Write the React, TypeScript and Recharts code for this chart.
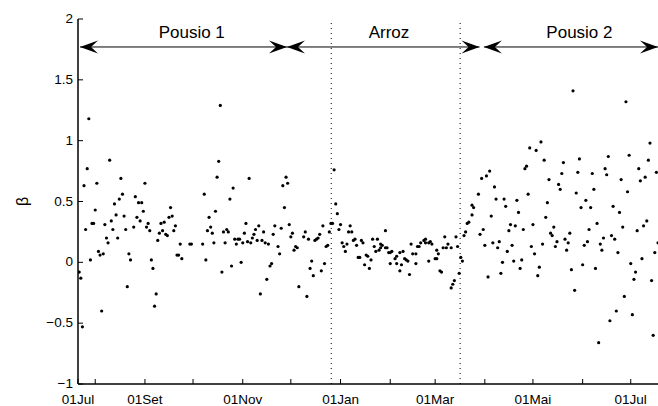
import { ScatterChart, Scatter, XAxis, YAxis, ReferenceLine, ReferenceDot, Label } from "recharts"

// day number counted from 01 Jul of the first year
const days = [
	21, 22, 23, 24, 25, 26, 27, 28, 29, 30,
	31, 32, 33, 34, 35, 36, 37, 38, 39, 40,
	41, 42, 43, 44, 45, 46, 47, 48, 49, 50,
	51, 52, 53,
	55, 56, 57, 58, 59, 60, 61, 62, 63, 64,
	65, 66, 67, 68, 69, 70, 71, 72, 73, 74,
	75, 76, 77, 78, 79, 80, 81,
	82, 83, 84, 85, 90, 91, 98, 99, 100, 101,
	102, 103, 104, 105, 106, 107, 108, 109, 110, 111,
	112, 113, 114, 115, 116, 117, 118, 119, 120, 121,
	122, 123, 124, 125, 126, 127, 128, 129, 130, 131,
	132, 133, 134, 135, 136, 137, 138, 139, 140, 141,
	142, 143,
	145, 146, 147, 148, 149, 150, 151, 152, 153, 154,
	155, 156, 157, 158,
	161, 162, 163, 164, 165, 166, 167, 168, 169, 170,
	171, 172, 173, 174, 175, 176, 177, 178, 179, 180,
	181, 182, 183, 184, 185, 186, 187, 188, 189, 190,
	191, 192, 193, 194, 195, 196, 197, 198, 199, 200,
	201, 202, 203, 204, 205, 206, 207,
	208, 209, 209, 210, 212, 212, 213, 214, 215, 215,
	216, 218, 219, 219, 221, 221, 222, 223, 224, 225,
	226, 227, 228, 229, 231, 231, 232, 233, 234, 236,
	237, 237, 239, 239, 240, 241, 243, 244, 244, 245,
	246, 247, 248, 249, 250, 251, 253, 253, 254, 255,
	256, 257, 258, 259, 260, 261, 262, 263, 264, 266,
	266, 267,
	270, 271, 272, 273, 274, 275, 276, 277, 278, 279,
	280, 281, 282, 283, 284, 285, 286, 287, 288, 289,
	290, 291, 292, 293, 294, 295, 296, 297, 298, 299,
	300, 301, 302, 303, 304, 305, 306, 307, 308, 309,
	310, 311, 312, 313, 314, 315, 316, 317, 318, 319,
	320, 321, 322, 323, 324, 325, 326, 327, 328, 329,
	330,
	331, 332, 333, 334, 335, 336, 337, 338, 339, 340,
	341, 342, 343, 344, 345, 346, 347, 348, 349, 350,
	351, 352, 353, 354, 355, 356, 357, 358, 359, 360,
	361, 362, 363, 364, 365, 366, 367, 368, 369, 370,
	371, 372, 373, 374, 375, 376, 377, 378, 379, 380,
	381, 382,
]

const beta = [
	-0.08, -0.13, -0.53, 0.63, 0.27, 0.77, 1.18, 0.02, 0.32, 0.32,
	0.43, 0.65, 0.09, 0.06, -0.4, 0.07, 0.31, 0.2, 0.16, 0.84,
	0.34, 0.27, 0.48, 0.39, 0.2, 0.52, 0.69, 0.56, 0.38, 0.27,
	-0.2, 0.07, 0.02,
	0.29, 0.54, 0.37, 0.49, 0.34, 0.49, 0.42, 0.65, 0.29, 0.32,
	0.26, 0.02, -0.05, -0.36, -0.26, 0.18, 0.24, 0.32, 0.26, 0.33,
	0.23, 0.22, 0.37, 0.45, 0.38, 0.26, 0.3,
	0.06, 0.06, 0.15, 0.03, 0.15, 0.15, 0.15, 0.56, 0.02, 0.26,
	0.37, 0.29, 0.24, 0.16, 0.42, 0.7, 0.83, 1.29, -0.08, 0.25,
	0.16, 0.27, 0.25, 0.52, -0.03, 0.61, 0.19, 0.15, 0.19, 0.19,
	0.0, 0.16, 0.24, 0.32, 0.17, 0.69, 0.16, 0.2, 0.23, 0.27,
	0.18, 0.3, -0.26, 0.18, 0.25, 0.16, -0.14, 0.15, -0.03, -0.01,
	0.23, 0.3,
	0.13, 0.07, 0.28, 0.63, 0.45, 0.7, 0.65, 0.31, 0.21, 0.24,
	0.1, 0.13, 0.12, -0.2,
	0.21, 0.25, -0.28, 0.19, -0.05, 0.01, -0.11, 0.18, 0.19, 0.2,
	0.23, -0.07, 0.3, -0.01, 0.13, 0.14, 0.25, 0.32, 0.32, 0.76,
	0.48, 0.4, 0.27, 0.31, 0.16, 0.13, 0.09, 0.15, 0.25, 0.3,
	0.25, 0.18, 0.19, 0.14, 0.04, 0.04, 0.18, 0.16, -0.02, 0.06,
	0.05, -0.05, 0.02, 0.19, 0.13, 0.09, 0.19,
	0.1, 0.12, 0.15, 0.14, 0.26, 0.12, 0.12, 0.08, -0.01, 0.08,
	0.09, 0.03, -0.01, 0.05, 0.08, -0.07, -0.02, 0.09, 0.03, 0.02,
	0.01, -0.1, 0.15, 0.07, -0.01, 0.07, 0.13, 0.13, 0.16, 0.18,
	0.19, 0.16, 0.01, 0.16, 0.17, 0.15, 0.03, 0.1, 0.03, 0.07,
	-0.07, -0.08, 0.12, 0.21, 0.12, 0.15, 0.12, -0.21, -0.18, -0.15,
	0.21, 0.13, -0.09, 0.04, 0.01, 0.22, 0.25, 0.32, 0.33, 0.39,
	0.47, 0.45,
	0.56, 0.23, 0.69, 0.27, 0.14, 0.71, -0.12, 0.75, 0.38, 0.16,
	0.62, 0.52, 0.12, 0.17, -0.09, 0.0, 0.52, 0.46, 0.09, 0.26,
	0.31, 0.14, 0.01, 0.3, 0.51, 0.41, -0.05, 0.02, 0.27, 0.77,
	0.79, 0.56, 0.94, 0.13, 0.31, 0.07, 0.92, -0.11, -0.04, 0.99,
	0.15, 0.84, 0.37, 0.49, 0.68, 0.24, 0.22, 0.29, 0.13, 0.17,
	0.64, 0.6, 0.73, 0.82, 0.19, 0.1, 0.16, 0.24, -0.06, 1.41,
	-0.23,
	0.57, 0.74, 0.85, 0.45, -0.02, 0.14, 0.51, 0.17, 0.27, 0.45,
	0.73, 0.6, -0.05, 0.32, -0.66, 0.15, 0.1, 0.2, 0.77, 0.72,
	0.87, -0.48, 0.22, 0.46, 0.19, -0.4, 0.08, 0.41, 0.68, 0.29,
	-0.28, 1.32, 0.58, 0.88, -0.01, -0.43, -0.14, -0.08, 0.26, 0.77,
	0.67, 0.03, 0.3, 0.7, 0.34, 0.84, 0.98, -0.15, -0.6, 0.08,
	0.74, 0.16,
]

const xStart = 20.25
const xEnd = 382
const startLabel = "01Jul"
// first day of each month (Aug .. Jul)
const monthTicks = [31, 62, 92, 123, 153, 184, 215, 243, 274, 304, 335, 365]
const monthLabels: Record<number, string> = {
	62: "01Set",
	123: "01Nov",
	184: "01Jan",
	243: "01Mar",
	304: "01Mai",
	365: "01Jul",
}
const yTicks = [-1, -0.5, 0, 0.5, 1, 1.5, 2]

const phaseLines = [178.2, 258.6]
const periodNames = ["Pousio 1", "Arroz", "Pousio 2"]
const periodStart = [21.5, 150.6, 273.4]
const periodEnd = [150.6, 270.7, 382]
const periodLabelDay = [91.2, 214.2, 333]
const arrowLevel = 1.77
const labelLevel = 1.89

const font = "'Liberation Sans', Arial, Helvetica, sans-serif"

const data = days.map((d, i) => ({ day: d, beta: beta[i] }))

const BottomTick = (p: any) => {
	const v = p.payload.value
	const label = v === xStart ? startLabel : monthLabels[v]
	return (
		<g>
			<line x1={p.x} x2={p.x} y1={p.y} y2={p.y - 5} stroke="#000" />
			{label && (
				<text x={p.x} y={p.y + 19.5} textAnchor="middle" fontSize={13.5} fontFamily={font} fill="#000">
					{label}
				</text>
			)}
		</g>
	)
}

const TopTick = (p: any) => <line x1={p.x} x2={p.x} y1={p.y} y2={p.y + 5} stroke="#000" />

const LeftTick = (p: any) => {
	const v = p.payload.value
	const label = v < 0 ? "\u2212" + Math.abs(v) : String(v)
	return (
		<g>
			<line x1={p.x} x2={p.x + 5} y1={p.y} y2={p.y} stroke="#000" />
			<text x={p.x - 5} y={p.y + 4} textAnchor="end" fontSize={13.5} fontFamily={font} fill="#000">
				{label}
			</text>
		</g>
	)
}

const RightTick = (p: any) => <line x1={p.x} x2={p.x - 5} y1={p.y} y2={p.y} stroke="#000" />

const arrowHead = (tx: number, ty: number, dir: number) => {
	const l = 18, n = 11, h = 6.5
	return `M${tx},${ty} L${tx - dir * l},${ty - h} L${tx - dir * n},${ty} L${tx - dir * l},${ty + h} Z`
}

const Arrow = (p: any) => (
	<g>
		<line x1={p.x1} y1={p.y1} x2={p.x2} y2={p.y2} stroke="#000" strokeWidth={1} />
		<path d={arrowHead(p.x1, p.y1, -1)} fill="#000" />
		<path d={arrowHead(p.x2, p.y2, 1)} fill="#000" />
	</g>
)

const BetaLabel = (p: any) => {
	const vb = p.viewBox
	const x = vb.x + 22
	const y = vb.y + vb.height / 2
	return (
		<text x={x} y={y} transform={`rotate(-90 ${x} ${y})`} textAnchor="middle" dominantBaseline="central" fontSize={16} fontFamily={font} fill="#000">
			β
		</text>
	)
}

const App = () => {
	return (
		<div style={{ position: "absolute", left: 0, top: 0, width: 658, height: 406, overflow: "hidden", background: "#fff" }}>
			<ScatterChart width={658} height={406} margin={{ top: 19, right: 0, bottom: 0, left: 0 }}>
				<XAxis
					xAxisId="b"
					type="number"
					dataKey="day"
					domain={[xStart, xEnd]}
					allowDataOverflow
					ticks={[xStart, ...monthTicks]}
					interval={0}
					tickSize={0}
					tickMargin={0}
					tickLine={false}
					tick={<BottomTick />}
					height={22}
					axisLine={{ stroke: "#000", strokeWidth: 1.5 }}
				/>
				<XAxis
					xAxisId="t"
					orientation="top"
					type="number"
					domain={[xStart, xEnd]}
					allowDataOverflow
					ticks={monthTicks}
					interval={0}
					tickSize={0}
					tickMargin={0}
					tickLine={false}
					tick={<TopTick />}
					height={0}
					axisLine={{ stroke: "#000", strokeWidth: 1.5 }}
				/>
				<YAxis
					yAxisId="l"
					type="number"
					dataKey="beta"
					domain={[-1, 2]}
					allowDataOverflow
					ticks={yTicks}
					interval={0}
					tickSize={0}
					tickMargin={0}
					tickLine={false}
					tick={<LeftTick />}
					width={78}
					axisLine={{ stroke: "#000", strokeWidth: 1.5 }}
				>
					<Label content={<BetaLabel />} />
				</YAxis>
				<YAxis
					yAxisId="r"
					orientation="right"
					type="number"
					domain={[-1, 2]}
					allowDataOverflow
					ticks={yTicks}
					interval={0}
					tickSize={0}
					tickMargin={0}
					tickLine={false}
					tick={<RightTick />}
					width={0}
					axisLine={false}
				/>
				{phaseLines.map((d) => (
					<ReferenceLine key={d} xAxisId="b" yAxisId="l" x={d} stroke="#000" strokeWidth={1} strokeDasharray="1 4" />
				))}
				{periodNames.map((name, i) => (
					<ReferenceLine
						key={name}
						xAxisId="b"
						yAxisId="l"
						ifOverflow="visible"
						segment={[
							{ x: periodStart[i], y: arrowLevel },
							{ x: periodEnd[i], y: arrowLevel },
						]}
						shape={(p: any) => <Arrow {...p} />}
					/>
				))}
				{periodNames.map((name, i) => (
					<ReferenceDot
						key={"l" + name}
						xAxisId="b"
						yAxisId="l"
						x={periodLabelDay[i]}
						y={labelLevel}
						r={0}
						ifOverflow="visible"
						shape={(p: any) => (
							<text x={p.cx} y={p.cy + 6} textAnchor="middle" fontSize={17} fontFamily={font} fill="#000">
								{name}
							</text>
						)}
					/>
				))}
				<Scatter
					xAxisId="b"
					yAxisId="l"
					data={data}
					isAnimationActive={false}
					shape={(p: any) => <circle cx={p.cx} cy={p.cy} r={1.6} fill="#000" />}
				/>
			</ScatterChart>
		</div>
	)
}

export default App
